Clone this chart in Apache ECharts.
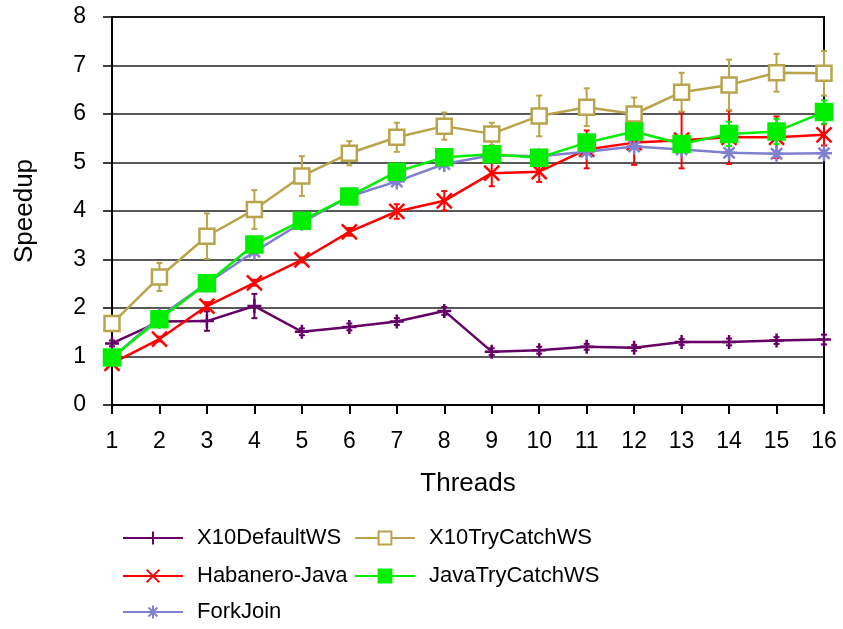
<!DOCTYPE html>
<html>
<head>
<meta charset="utf-8">
<script src="https://cdn.jsdelivr.net/npm/echarts@6/dist/echarts.min.js"></script>
<style>
  html, body { margin: 0; padding: 0; background: #fff; }
  #chart { width: 843px; height: 629px; }
</style>
</head>
<body>
<div id="chart"></div>
<script>
// Thread counts on the x axis
const threads = [1, 2, 3, 4, 5, 6, 7, 8, 9, 10, 11, 12, 13, 14, 15, 16];

// Mean speedup per configuration
const x10Default   = [1.27, 1.72, 1.73, 2.04, 1.51, 1.61, 1.72, 1.94, 1.10, 1.13, 1.20, 1.18, 1.30, 1.30, 1.33, 1.35];
const habanero     = [0.86, 1.36, 2.04, 2.52, 2.99, 3.57, 3.99, 4.21, 4.78, 4.81, 5.27, 5.41, 5.46, 5.52, 5.52, 5.57];
const forkJoin     = [0.97, 1.82, 2.51, 3.16, 3.76, 4.30, 4.61, 4.97, 5.15, 5.13, 5.22, 5.33, 5.27, 5.20, 5.18, 5.19];
const x10TryCatch  = [1.68, 2.64, 3.48, 4.03, 4.72, 5.19, 5.52, 5.75, 5.59, 5.96, 6.14, 6.00, 6.45, 6.60, 6.85, 6.84];
const javaTryCatch = [0.98, 1.77, 2.51, 3.31, 3.80, 4.30, 4.81, 5.11, 5.17, 5.10, 5.41, 5.64, 5.38, 5.59, 5.64, 6.04];

// Half-widths of the error bars (± around the mean)
const x10DefaultErr   = [0.06, 0.08, 0.20, 0.25, 0.07, 0.07, 0.07, 0.08, 0.07, 0.07, 0.06, 0.06, 0.06, 0.07, 0.07, 0.10];
const habaneroErr     = [0.05, 0.05, 0.08, 0.06, 0.05, 0.08, 0.15, 0.20, 0.27, 0.21, 0.39, 0.46, 0.58, 0.55, 0.43, 0.22];
const forkJoinErr     = [0.03, 0.05, 0.04, 0.05, 0.05, 0.04, 0.05, 0.05, 0.05, 0.05, 0.05, 0.05, 0.05, 0.05, 0.05, 0.05];
const x10TryCatchErr  = [0.05, 0.29, 0.47, 0.40, 0.41, 0.25, 0.30, 0.28, 0.23, 0.42, 0.39, 0.34, 0.40, 0.52, 0.39, 0.46];
const javaTryCatchErr = [0.04, 0.05, 0.05, 0.05, 0.05, 0.05, 0.05, 0.05, 0.05, 0.05, 0.08, 0.10, 0.06, 0.25, 0.26, 0.24];

// Axis tick range
const yTicks = { min: 0, max: 8, step: 1 };
const xTicks = { min: 1, max: 16, step: 1 };

const FONT = '"Liberation Sans", Arial, Helvetica, sans-serif';

const SYM_PLUS  = 'path://M5,0L5,10M0,5L10,5';
const SYM_CROSS = 'path://M0,0L10,10M0,10L10,0';
const SYM_STAR  = 'path://M5,0L5,10M0,5L10,5M1.5,1.5L8.5,8.5M1.5,8.5L8.5,1.5';

const defs = [
  { name: 'X10DefaultWS',   y: x10Default,   err: x10DefaultErr,   color: '#660066', symbol: SYM_PLUS,  size: [14, 14], fill: 'none' },
  { name: 'Habanero-Java',  y: habanero,     err: habaneroErr,     color: '#ff0000', symbol: SYM_CROSS, size: 15, fill: 'none' },
  { name: 'ForkJoin',       y: forkJoin,     err: forkJoinErr,     color: '#8080d0', symbol: SYM_STAR,  size: 16, fill: 'none' },
  { name: 'X10TryCatchWS',  y: x10TryCatch,  err: x10TryCatchErr,  color: '#b9a44c', symbol: 'rect',    size: 15, fill: '#ffffff' },
  { name: 'JavaTryCatchWS', y: javaTryCatch, err: javaTryCatchErr, color: '#00ee00', symbol: 'rect',    size: 16, fill: '#00ee00' }
];

function errorBars(color) {
  return function (params, api) {
    const x = api.value(0), lo = api.value(1), hi = api.value(2);
    const a = api.coord([x, lo]);
    const b = api.coord([x, hi]);
    const w = 3;
    const st = { stroke: color, lineWidth: 2 };
    return {
      type: 'group',
      children: [
        { type: 'line', shape: { x1: a[0], y1: a[1], x2: b[0], y2: b[1] }, style: st },
        { type: 'line', shape: { x1: a[0] - w, y1: a[1], x2: a[0] + w, y2: a[1] }, style: st },
        { type: 'line', shape: { x1: b[0] - w, y1: b[1], x2: b[0] + w, y2: b[1] }, style: st }
      ]
    };
  };
}

const series = [];
defs.forEach((d, i) => {
  series.push({
    type: 'custom',
    name: d.name + ' err',
    renderItem: errorBars(d.color),
    data: threads.map((t, k) => [t, d.y[k] - d.err[k], d.y[k] + d.err[k]]),
    encode: { x: 0, y: [1, 2] },
    z: 2 + i * 2,
    silent: true
  });
  series.push({
    type: 'line',
    name: d.name,
    data: threads.map((t, k) => [t, d.y[k]]),
    symbol: d.symbol,
    symbolSize: d.size,
    showSymbol: true,
    lineStyle: { color: d.color, width: 2.5 },
    itemStyle: { color: d.fill, borderColor: d.color, borderWidth: 2.5 },
    z: 3 + i * 2
  });
});

const legendPos = [
  { name: 'X10DefaultWS',   left: 122, top: 527 },
  { name: 'Habanero-Java',  left: 122, top: 565 },
  { name: 'ForkJoin',       left: 122, top: 601 },
  { name: 'X10TryCatchWS',  left: 354, top: 527 },
  { name: 'JavaTryCatchWS', left: 354, top: 565 }
];

const legends = legendPos.map(p => ({
  data: [p.name],
  left: p.left,
  top: p.top,
  padding: 0,
  itemWidth: 60,
  itemHeight: 16,
  selectedMode: false,
  textStyle: { fontFamily: FONT, fontSize: 22, color: '#000', padding: [0, 0, 0, 9] }
}));

const chart = echarts.init(document.getElementById('chart'), null, { renderer: 'canvas' });
chart.setOption({
  animation: false,
  backgroundColor: '#fff',
  grid: {
    left: 112, right: 19, top: 17, bottom: 224,
    show: true, borderColor: '#000', borderWidth: 2, backgroundColor: 'transparent'
  },
  legend: legends,
  xAxis: {
    type: 'value',
    min: xTicks.min, max: xTicks.max, interval: xTicks.step,
    name: 'Threads',
    nameLocation: 'middle',
    nameGap: 66,
    nameTextStyle: { fontFamily: FONT, fontSize: 26, color: '#000' },
    axisLine: { lineStyle: { color: '#000', width: 2 } },
    axisTick: { show: true, length: 9, lineStyle: { color: '#000', width: 2 } },
    axisLabel: { fontFamily: FONT, fontSize: 23, color: '#000', margin: 25 },
    splitLine: { show: false }
  },
  yAxis: {
    type: 'value',
    min: yTicks.min, max: yTicks.max, interval: yTicks.step,
    name: 'Speedup',
    nameLocation: 'middle',
    nameGap: 74,
    nameTextStyle: { fontFamily: FONT, fontSize: 26, color: '#000' },
    axisLine: { lineStyle: { color: '#000', width: 2 } },
    axisTick: { show: true, length: 9, lineStyle: { color: '#000', width: 1.5 } },
    axisLabel: { fontFamily: FONT, fontSize: 23, color: '#000', margin: 26 },
    splitLine: { show: true, lineStyle: { color: '#222', width: 1.5 } }
  },
  series: series
});
</script>
</body>
</html>
